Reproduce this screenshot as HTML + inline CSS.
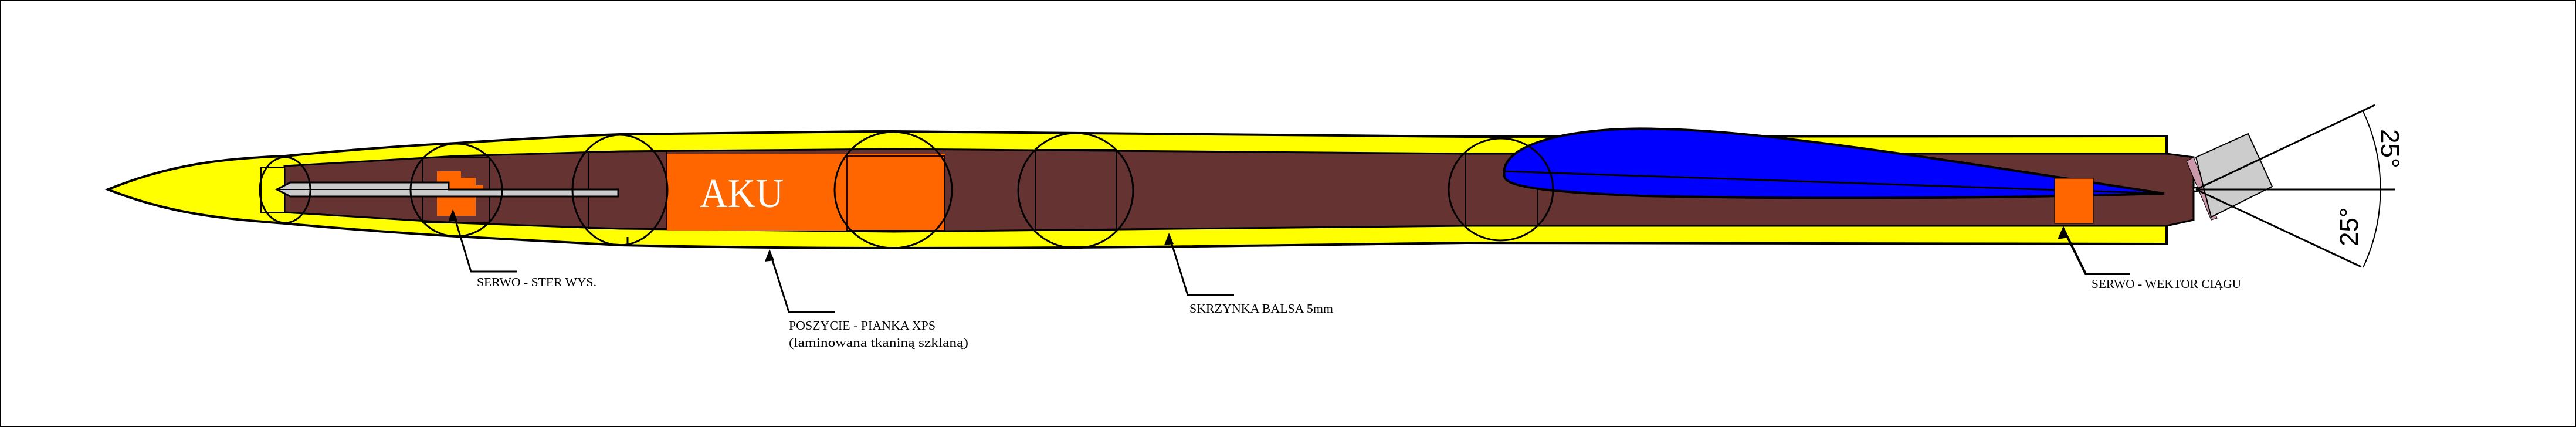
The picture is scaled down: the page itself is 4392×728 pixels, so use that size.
<!DOCTYPE html>
<html><head><meta charset="utf-8"><style>html,body{margin:0;padding:0;background:#fff}svg{display:block}</style></head>
<body>
<svg width="4392" height="728" viewBox="0 0 4392 728" xmlns="http://www.w3.org/2000/svg">
<rect x="1" y="1" width="4390" height="726" fill="#fff" stroke="#000" stroke-width="2"/>
<path d="M184 323 C 290 280 380 270 486 266 C 600 255 700 248 778 244 C 900 236 1000 231 1057 229 C 1300 226 1400 224 1523 224 C 2000 226 2300 231 2500 233 C 3000 234 3400 231 3694 232 L3694 416 C 3400 416 3000 414 2500 414 C 2200 418 1900 423 1523 423 C 1300 423 1150 420 1057 418 C 950 413 860 408 778 403 C 650 395 560 388 486 381 C 380 373 290 365 184 323 Z" fill="#ffff00" stroke="#000" stroke-width="4"/>
<path d="M485 283 L778 266 L1057 258 L1523 254 L2500 262 L3694 262 L3740 268 L3740 375 L3694 385 L2500 385 L1523 395 L1057 390 L778 380 L485 362 Z" fill="#663333" stroke="#000" stroke-width="3"/>
<rect x="445" y="285" width="40" height="77" fill="#ffff00" stroke="#000" stroke-width="2"/>
<g fill="none" stroke="#000" stroke-width="2">
<rect x="721" y="268" width="114" height="112"/>
<rect x="1003" y="258" width="134" height="132"/>
<rect x="1765" y="255" width="138" height="138"/>
<rect x="2499" y="262" width="123" height="123"/>
</g>
<rect x="1137" y="262" width="474" height="131" fill="#ff6600"/>
<rect x="1444" y="266" width="167" height="127" fill="#ff6600" stroke="#000" stroke-width="2"/>
<text x="1193" y="353" font-family="Liberation Serif, serif" font-size="70" fill="#fff" textLength="143" lengthAdjust="spacingAndGlyphs">AKU</text>
<polygon points="745,292 786,292 786,303 811,303 811,316 824,316 824,335 811,335 811,368 745,368" fill="#ff6600"/>
<path d="M472 323 L495 311 L765 311 L765 323 L1054 323 L1054 335 L495 335 Z" fill="#cccccc" stroke="#000" stroke-width="3"/>
<line x1="476" y1="323" x2="765" y2="323" stroke="#000" stroke-width="2"/>
<path d="M2565 300 C2555 240 2700 215 2830 220 C3000 222 3300 270 3690 330 C3400 338 3100 340 2800 334 C2650 328 2565 320 2565 300 Z" fill="#0000ff" stroke="#000" stroke-width="4"/>
<line x1="2563" y1="292" x2="3690" y2="330" stroke="#000" stroke-width="3"/>
<rect x="3503" y="304" width="66" height="77" fill="#ff6600" stroke="#000" stroke-width="1"/>
<g fill="none" stroke="#000" stroke-width="3">
<ellipse cx="486" cy="324" rx="43" ry="56"/>
<ellipse cx="778" cy="324" rx="78" ry="79"/>
<ellipse cx="1057" cy="324" rx="81" ry="94"/>
<ellipse cx="1523" cy="324" rx="100" ry="99"/>
<ellipse cx="1834" cy="325" rx="98" ry="98"/>
<ellipse cx="2559" cy="323" rx="89" ry="87"/>
</g>
<line x1="1070" y1="404" x2="1070" y2="418" stroke="#000" stroke-width="3"/>
<polygon points="3728,275 3740,268 3780,372 3770,375" fill="#cc99aa" stroke="#000" stroke-width="1"/>
<polygon points="3744,268 3833,228 3874,318 3770,370" fill="#cccccc" stroke="#000" stroke-width="2"/>
<circle cx="3744" cy="323" r="4" fill="#fff" stroke="#000" stroke-width="2"/>
<g stroke="#000" stroke-width="3" fill="none">
<line x1="3744" y1="323" x2="4049" y2="179"/>
<line x1="3744" y1="323" x2="4026" y2="455"/>
<line x1="3744" y1="323" x2="4084" y2="323"/>
<path d="M4029 190 A314 314 0 0 1 4029 456" stroke-width="2"/>
</g>
<text transform="translate(4060,220) rotate(90)" font-family="Liberation Sans, sans-serif" font-size="44" fill="#000">25°</text>
<text transform="translate(4020,420) rotate(-90)" font-family="Liberation Sans, sans-serif" font-size="44" fill="#000">25°</text>
<g stroke="#000" stroke-width="3" fill="none">
<polyline points="772,360 803,463 881,463"/>
<polyline points="1312,428 1345,532 1423,532"/>
<polyline points="1993,400 2025,503 2104,503"/>
<polyline points="3518,390 3556,467 3632,467" stroke-width="4"/>
</g>
<g fill="#000">
<polygon points="772,357 764,378 780,376"/>
<polygon points="1312,425 1304,446 1320,444"/>
<polygon points="1993,397 1985,418 2001,416"/>
<polygon points="3518,385 3508,408 3526,405"/>
</g>
<g font-family="Liberation Serif, serif" font-size="21" fill="#000">
<text x="813" y="488" textLength="204" lengthAdjust="spacingAndGlyphs">SERWO - STER WYS.</text>
<text x="1345" y="562" textLength="250" lengthAdjust="spacingAndGlyphs">POSZYCIE - PIANKA XPS</text>
<text x="1345" y="591" textLength="306" lengthAdjust="spacingAndGlyphs">(laminowana tkaniną szklaną)</text>
<text x="2028" y="533" textLength="245" lengthAdjust="spacingAndGlyphs">SKRZYNKA BALSA 5mm</text>
<text x="3566" y="491" textLength="255" lengthAdjust="spacingAndGlyphs">SERWO - WEKTOR CIĄGU</text>
</g>
</svg>
</body></html>
